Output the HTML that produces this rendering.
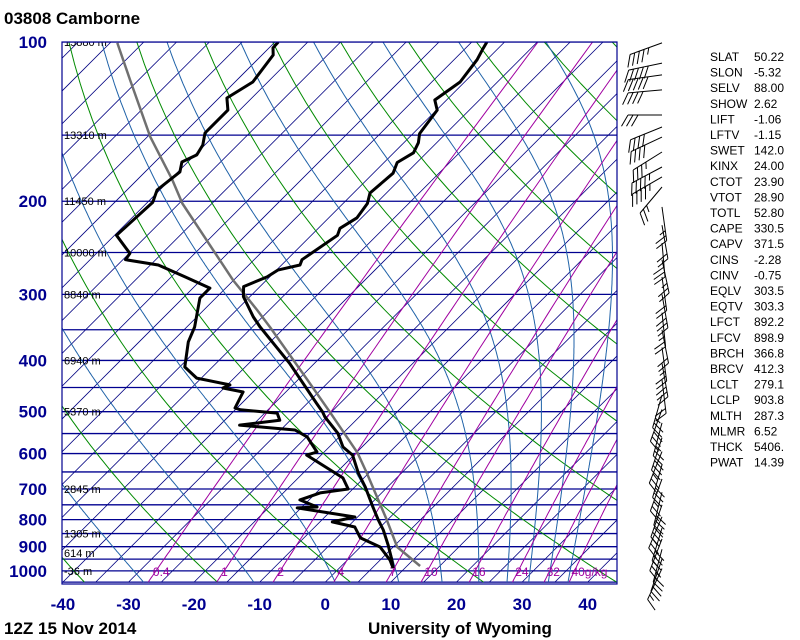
<!DOCTYPE html>
<html><head><meta charset="utf-8"><style>
html,body{margin:0;padding:0;background:#fff;}
svg{display:block;font-family:"Liberation Sans",Arial,sans-serif;}
</style></head><body>
<svg id="chart" width="800" height="640" viewBox="0 0 800 640" xmlns="http://www.w3.org/2000/svg">
<defs><clipPath id="plotclip"><rect x="62" y="42" width="555" height="542"/></clipPath></defs>
<text x="4" y="24" font-size="17" font-weight="bold" fill="#000">03808  Camborne</text>
<g id="bg" clip-path="url(#plotclip)"></g>
<g id="series" clip-path="url(#plotclip)"></g>
<rect x="62" y="42" width="555" height="542" fill="none" stroke="#000090" stroke-width="1.2"/>
<g id="labels"></g>
<g id="winds"></g>
<g id="table"></g>
<text x="4" y="634" font-size="17" font-weight="bold" fill="#000">12Z 15 Nov 2014</text>
<text x="368" y="634" font-size="17" font-weight="bold" fill="#000">University of Wyoming</text>
</svg>
<script>
// ---- data ----
const pressureTicks = [100,200,300,400,500,600,700,800,900,1000];
const tempTicks = [-40,-30,-20,-10,0,10,20,30,40];
const heightP = [100,150,200,250,300,400,500,700,850,925,1000];
const heightLabels = ["15880 m","13310 m","11450 m","10000 m","8840 m","6940 m","5370 m","2845 m","1305 m","614 m","-36 m"];
const mixRatios = [0.4,1,2,4,7,10,16,24,32,40];
const mixLabels = ["0.4","1","2","4","7","10","16","24","32","40g/kg"];
const tempP = [988,954,893,837,801,757,694,653,604,583,549,512,501,482,405,346,331,303,290,278,270,264,258,232,225,215,202,193,177,169,162,155,149,134.5,128.7,119,108,103.5,100];
const tempT = [8.2,6.8,3.9,0.9,-1.4,-4.2,-8.4,-11.6,-15.2,-17.9,-20.8,-25.2,-26.3,-28.6,-38.8,-48.8,-51.4,-56.0,-57.5,-55.4,-54.8,-52.2,-52.7,-51.0,-51.7,-50.7,-51.3,-52.5,-52.0,-53.0,-52.0,-52.8,-54.0,-54.9,-56.8,-55.7,-56.5,-57.2,-57.7];
const dewP = [988,954,901,866,826,808,791,760,757,734,712,700,667,604,596,558,541.5,530,519,503,496,492,459,451,445,432,411.6,369,346,305,292,278,264,258,251,232,201,190.5,176,168.6,163.5,156.6,148.6,134.5,127.6,119,105.8,102.6,100];
const dewT = [8.2,6.5,3.0,-1.4,-3.9,-8.1,-5.4,-15.6,-12.7,-16.4,-14.4,-10.7,-13.2,-22.2,-21.1,-24.9,-27.8,-37.0,-31.6,-33.1,-39.2,-40.3,-41.5,-45.2,-44.6,-50.7,-54.2,-57.5,-58.8,-62.4,-62.4,-67.9,-73.8,-79.6,-79.9,-84.7,-84.2,-85.4,-84.7,-85.9,-84.7,-85.3,-86.8,-86.8,-88.8,-87.3,-88.3,-89.4,-89.5];
const parcelP = [979,901,801,653,598,501,435,346,321,298,282,202,182,151,118,100.4];
const parcelT = [12.0,5.6,-0.1,-10.3,-14.8,-25.2,-33.6,-47.3,-51.9,-56.6,-60.1,-79.5,-84.7,-94.6,-106.3,-113.9];
const windP = [100.4,109.6,115.4,123.2,137.4,144.8,151.3,161.4,172.3,179.9,188,205,222,240,258,278,300,325,350,378,405,435,465,495,525,560,595,630,670,710,750,790,830,870,910,950,990];
const windDir = [250,258,262,265,270,248,245,238,242,240,220,172,170,175,168,172,170,174,169,172,170,173,196,200,195,198,202,196,200,194,199,203,197,201,195,199,205];
const windSpd = [45,50,50,40,30,40,40,35,45,45,25,25,20,30,25,20,30,25,20,25,30,20,25,30,25,30,25,30,25,30,30,25,30,25,25,20,15];
const tableKeys = ["SLAT","SLON","SELV","SHOW","LIFT","LFTV","SWET","KINX","CTOT","VTOT","TOTL","CAPE","CAPV","CINS","CINV","EQLV","EQTV","LFCT","LFCV","BRCH","BRCV","LCLT","LCLP","MLTH","MLMR","THCK","PWAT"];
const tableVals = ["50.22","-5.32","88.00","2.62","-1.06","-1.15","142.0","24.00","23.90","28.90","52.80","330.5","371.5","-2.28","-0.75","303.5","303.3","892.2","898.9","366.8","412.3","279.1","903.8","287.3","6.52","5406.","14.39"];

// ---- axes ----
const NS="http://www.w3.org/2000/svg";
function yP(p){return 42+229.7*Math.log(p/100);}
function xT(T,p){return 61+(T+40)*6.56+(584-yP(p));}
function mk(tag,attrs,parent){const e=document.createElementNS(NS,tag);for(const k in attrs)e.setAttribute(k,attrs[k]);parent.appendChild(e);return e;}
function pathFrom(ps,ts){let d="";for(let i=0;i<ps.length;i++){d+=(i?"L":"M")+xT(ts[i],ps[i]).toFixed(1)+" "+yP(ps[i]).toFixed(1);}return d;}
const bg=document.getElementById('bg'),series=document.getElementById('series'),labels=document.getElementById('labels'),winds=document.getElementById('winds'),table=document.getElementById('table');

for(let p=100;p<=1050;p+=50){
  const l=mk('line',{x1:62,x2:617,y1:yP(p),y2:yP(p),stroke:'#000090','stroke-width':1.3},bg);
  
  
}
for(let T=-160;T<=50;T+=5){
  const l=mk('line',{x1:xT(T,1050),y1:yP(1050),x2:xT(T,100),y2:yP(100),stroke:'#000080','stroke-width':0.8},bg);
  
  
}
for(let th=153.15;th<=513.15;th+=20){
  let d="";for(let p=1050;p>=100;p-=10){const T=th*Math.pow(p/1000,0.286)-273.15;d+=(p==1050?"M":"L")+xT(T,p).toFixed(1)+" "+yP(p).toFixed(1);}
  const l=mk('path',{d:d,fill:'none',stroke:'#008a00','stroke-width':1},bg);
  
  
}
function es(T){return 6.112*Math.exp(17.67*T/(T+243.5));}
[-27.7,-10.9,1.5,11.2,17.8,23.4,27.7,31,34,37].forEach(T0=>{
  let T=T0,d="";
  for(let p=1050;p>=100;p-=2){
    d+=(p==1050?"M":"L")+xT(T,p).toFixed(1)+" "+yP(p).toFixed(1);
    const Tk=T+273.15,e=es(T),r=0.622*e/(p-e);
    const g=(287*Tk+2.5e6*r)/(1005+2.5e6*2.5e6*r*0.622/(287*Tk*Tk))/p;
    T-=g*2;
  }
  const l=mk('path',{d:d,fill:'none',stroke:'#1f62a8','stroke-width':1},bg);
  
  
});
function tFromE(e){const a=Math.log(e/6.112);return 243.5*a/(17.67-a);}
mixRatios.forEach((w,i)=>{
  let d="";const wk=w/1000;
  for(let p=1050;p>=100;p-=10){const e=wk*p/(0.622+wk);d+=(p==1050?"M":"L")+xT(tFromE(e),p).toFixed(1)+" "+yP(p).toFixed(1);}
  const l=mk('path',{d:d,fill:'none',stroke:'#a000a0','stroke-width':1},bg);
  
  
  const e1=wk*1000/(0.622+wk);
  const t=mk('text',{x:xT(tFromE(e1),1000)-3,y:yP(1000)+5,'font-size':12,fill:'#a000a0'},bg);
  t.textContent=mixLabels[i];
  
  
});
heightP.forEach((p,i)=>{
  const t=mk('text',{x:64,y:yP(p)+4,'font-size':11,fill:'#000'},bg);
  t.textContent=heightLabels[i];
  
  
});
let s=mk('path',{d:pathFrom(parcelP,parcelT),fill:'none',stroke:'#707070','stroke-width':2.5,'stroke-linejoin':'round'},series);


s=mk('path',{d:pathFrom(dewP,dewT),fill:'none',stroke:'#000','stroke-width':3,'stroke-linejoin':'round'},series);


s=mk('path',{d:pathFrom(tempP,tempT),fill:'none',stroke:'#000','stroke-width':3,'stroke-linejoin':'round'},series);


pressureTicks.forEach(p=>{
  const t=mk('text',{x:47,y:yP(p)+6,'font-size':17,'font-weight':'bold',fill:'#000090','text-anchor':'end'},labels);
  t.textContent=p;
  
  
});
tempTicks.forEach(T=>{
  const t=mk('text',{x:xT(T,1050),y:610,'font-size':17,'font-weight':'bold',fill:'#000090','text-anchor':'middle'},labels);
  t.textContent=T;
  
  
});
windP.forEach((p,i)=>{
  const sx=662,sy=yP(p),d=windDir[i]*Math.PI/180,L=34;
  const ux=Math.sin(d),uy=-Math.cos(d);
  const lx=uy,ly=-ux;const side=windDir[i]>=180?1:-1;
  const ex=sx+ux*L,ey=sy+uy*L;
  let path="M"+sx+" "+sy.toFixed(1)+"L"+ex.toFixed(1)+" "+ey.toFixed(1);
  let spd=windSpd[i],pos=0;
  while(spd>=10){const bx=ex-ux*pos,by=ey-uy*pos;path+="M"+bx.toFixed(1)+" "+by.toFixed(1)+"l"+((lx*side*0.87+ux*0.5)*13).toFixed(1)+" "+((ly*side*0.87+uy*0.5)*13).toFixed(1);spd-=10;pos+=5;}
  if(spd>=5){const bx=ex-ux*pos,by=ey-uy*pos;path+="M"+bx.toFixed(1)+" "+by.toFixed(1)+"l"+((lx*side*0.87+ux*0.5)*7).toFixed(1)+" "+((ly*side*0.87+uy*0.5)*7).toFixed(1);}
  const b=mk('path',{d:path,fill:'none',stroke:'#000','stroke-width':1},winds);
  
  
});
tableKeys.forEach((k,i)=>{
  const y=61+i*15.6;
  const a=mk('text',{x:710,y:y,'font-size':12,fill:'#000'},table);
  a.textContent=k;
  
  
  const b=mk('text',{x:754,y:y,'font-size':12,fill:'#000'},table);
  b.textContent=tableVals[i];
  
  
});
</script>
</body></html>
